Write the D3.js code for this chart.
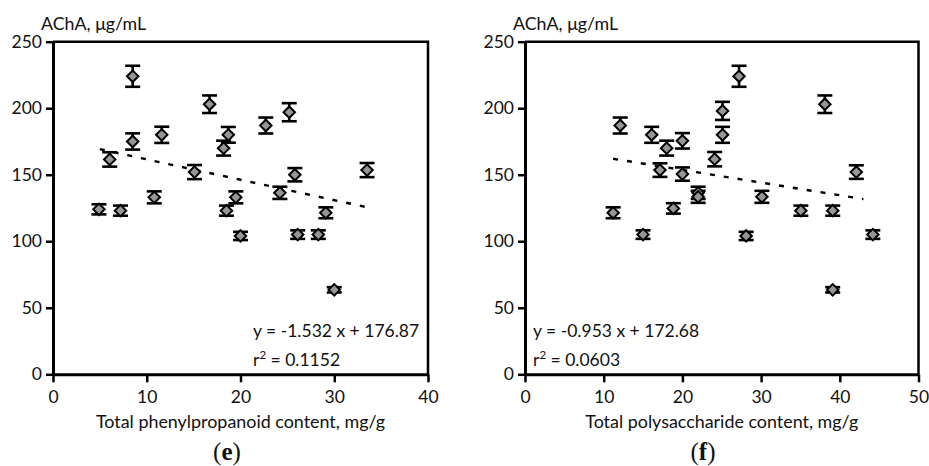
<!DOCTYPE html>
<html><head><meta charset="utf-8">
<script src="https://cdn.jsdelivr.net/npm/d3@7/dist/d3.min.js"></script>
<style>
body{margin:0;background:#fff;}
svg{display:block;}
text{font-family:Lato,"Open Sans",sans-serif;fill:#111;}
</style></head><body>
<svg id="c" width="929" height="466"></svg>
<script>
// ---- data ----
const yTicks = [0, 50, 100, 150, 200, 250];
const xTicksE = [0, 10, 20, 30, 40];
const xTicksF = [0, 10, 20, 30, 40, 50];

// panel (e): total phenylpropanoid content
const xE = [4.9, 6.05, 7.2, 8.5, 8.5, 10.8, 11.6, 15.1, 16.7, 18.2, 18.5, 18.7, 19.5, 20.0, 22.7, 24.2, 25.2, 25.8, 26.1, 28.3, 29.1, 30.0, 33.5];
const yE = [124, 161.5, 123, 224, 175, 133, 180, 152, 203, 170, 123, 180, 133, 104, 187, 136.4, 197, 150, 105, 105, 121.4, 63.5, 153.5];
const eE = [3.8, 5.4, 3.8, 7.9, 6.1, 4.5, 6.1, 5.3, 6.6, 5.6, 3.8, 5.9, 4.5, 3.1, 6.0, 4.6, 6.8, 5.0, 3.2, 3.2, 4.1, 2.0, 5.3];
const fitE = {slope: -1.532, intercept: 176.87, from: 5, to: 33.3};

// panel (f): total polysaccharide content
const xF = [11.2, 12.1, 15.0, 16.1, 17.15, 18.0, 18.85, 20.0, 20.0, 22.0, 22.0, 24.1, 25.1, 25.1, 27.2, 28.1, 30.1, 35.05, 38.1, 39.1, 39.1, 42.1, 44.2];
const yF = [121.4, 187, 105, 180, 153.5, 170, 124.7, 175.5, 150.5, 136.4, 133.4, 161.7, 180, 198, 224, 104, 133.4, 123, 203, 123, 63.5, 152, 105];
const eF = [4.1, 6.0, 3.2, 6.0, 5.1, 5.6, 3.9, 5.8, 5.0, 4.6, 4.5, 5.4, 6.0, 6.8, 7.9, 3.1, 4.5, 3.8, 6.6, 3.8, 2.0, 5.1, 3.2];
const fitF = {slope: -0.953, intercept: 172.68, from: 11.2, to: 43};

const yTitle = "AChA, \u03bcg/mL";

const svg = d3.select("#c");
const plotTop = 41.7, plotBottom = 374.3;

function panel(opt){
  const g = svg.append("g");
  const x = d3.scaleLinear().domain(opt.xDomain).range([opt.left, opt.right]);
  const y = d3.scaleLinear().domain([0, 250]).range([plotBottom, plotTop]);

  // frame (top & right)
  g.append("path")
    .attr("d", `M${opt.left},${plotTop}H${opt.right}V${plotBottom}`)
    .attr("fill","none").attr("stroke","#000").attr("stroke-width",2.5);

  // axes
  const ya = g.append("g").attr("transform",`translate(${opt.left},0)`)
    .call(d3.axisLeft(y).tickValues(yTicks).tickSize(7).tickSizeOuter(0).tickPadding(4));
  const xa = g.append("g").attr("transform",`translate(0,${plotBottom})`)
    .call(d3.axisBottom(x).tickValues(opt.xTicks).tickSize(8).tickSizeOuter(0).tickPadding(8));
  [ya, xa].forEach(a=>{
    a.select(".domain").attr("stroke","#000").attr("stroke-width",3);
    a.selectAll(".tick line").attr("stroke","#000").attr("stroke-width",2.5);
    a.selectAll(".tick text").attr("font-size",17.5).attr("fill","#111")
      .attr("font-family","Lato,'Open Sans',sans-serif");
  });

  // y title
  g.append("text").attr("x", opt.left - 12).attr("y", 30)
    .attr("font-size",17.8).text(yTitle);
  // x title
  g.append("text").attr("x",(opt.left+opt.right)/2).attr("y",428)
    .attr("text-anchor","middle").attr("font-size",17.9).text(opt.xTitle);
  // panel label
  const pl = g.append("text").attr("x",opt.labelX).attr("y",460)
    .attr("text-anchor","middle").attr("font-size",25)
    .style("font-family","'Liberation Serif','DejaVu Serif',serif");
  pl.append("tspan").text("(");
  pl.append("tspan").attr("font-weight","bold").text(opt.label);
  pl.append("tspan").text(")");

  // regression line
  const f = opt.fit;
  g.append("line")
    .attr("x1", x(f.from)).attr("y1", y(f.slope*f.from + f.intercept))
    .attr("x2", x(f.to)).attr("y2", y(f.slope*f.to + f.intercept))
    .attr("stroke","#000").attr("stroke-width",2.4).attr("stroke-dasharray","5,9");

  const data = opt.xs.map((v,i)=>({x:v, y:opt.ys[i], e:opt.es[i]}));
  // error bars
  const eb = g.append("g").attr("stroke","#000").attr("stroke-width",2.6);
  data.forEach(d=>{
    const cx = x(d.x), y1 = y(d.y + d.e), y2 = y(d.y - d.e);
    eb.append("line").attr("x1",cx).attr("x2",cx).attr("y1",y1).attr("y2",y2);
    eb.append("line").attr("x1",cx-7.5).attr("x2",cx+7.5).attr("y1",y1).attr("y2",y1);
    eb.append("line").attr("x1",cx-7.5).attr("x2",cx+7.5).attr("y1",y2).attr("y2",y2);
  });
  // diamonds
  const sym = d3.symbol().type(d3.symbolSquare).size(66);
  g.append("g").selectAll("path").data(data).join("path")
    .attr("d", sym)
    .attr("transform", d=>`translate(${x(d.x)},${y(d.y)}) rotate(45)`)
    .attr("fill","#969696").attr("stroke","#000").attr("stroke-width",2);

  // equation
  g.append("text").attr("x",opt.eqX).attr("y",337).attr("font-size",17.5).text(opt.eq);
  const r = g.append("text").attr("x",opt.eqX).attr("y",366).attr("font-size",17.5);
  r.append("tspan").text("r");
  r.append("tspan").attr("font-size",11.5).attr("dy",-7.5).text("2");
  r.append("tspan").attr("dy",7.5).text(" = " + opt.r2);
}

panel({xDomain:[0,40], left:53, right:428, xTicks:xTicksE,
  xTitle:"Total phenylpropanoid content, mg/g", label:"e", labelX:227,
  fit:fitE, xs:xE, ys:yE, es:eE, eq:"y = -1.532 x + 176.87", r2:"0.1152", eqX:253});
panel({xDomain:[0,50], left:525, right:918.5, xTicks:xTicksF,
  xTitle:"Total polysaccharide content, mg/g", label:"f", labelX:703,
  fit:fitF, xs:xF, ys:yF, es:eF, eq:"y = -0.953 x + 172.68", r2:"0.0603", eqX:533});
</script>
</body></html>
